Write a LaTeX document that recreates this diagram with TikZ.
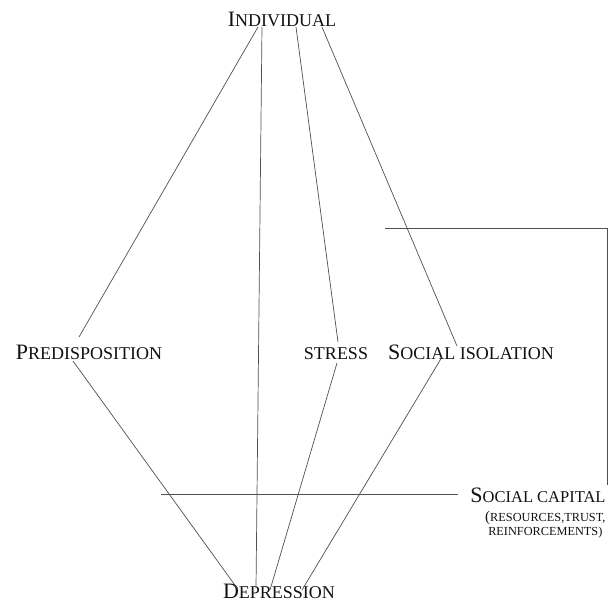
\documentclass[tikz,border=0pt]{standalone}
\usepackage{tikz}
\usetikzlibrary{calc,positioning}
\usepackage{xcolor}
\usepackage{fontspec}
\setmainfont{Liberation Serif}
\definecolor{dgInk}{HTML}{111111}
\definecolor{dgLine}{HTML}{505050}
\newcommand{\initcap}[1]{{\fontsize{22}{24}\selectfont #1}}
\tikzset{
  lbl/.style={inner sep=0pt, anchor=base, text=dgInk, font=\fontsize{18}{20}\selectfont},
  note/.style={inner sep=0pt, text=dgInk, align=left, font=\fontsize{12.3}{13.5}\selectfont},
  link/.style={draw=dgLine, line width=0.7pt},
}
\begin{document}
\begin{tikzpicture}[x=1pt,y=-1pt]
            \useasboundingbox (0,0) rectangle (611,611);
            % factors
            \node[lbl] (ind) at (282,26) {\initcap{I}NDIVIDUAL};
            \node[lbl] (pre) at (89,359) {\initcap{P}REDISPOSITION};
            \node[lbl] (str) at (336,359) {STRESS};
            \node[lbl] (iso) at (471,359) {\initcap{S}OCIAL ISOLATION};
            \node[lbl] (dep) at (279,598) {\initcap{D}EPRESSION};
            \node[lbl, font=\fontsize{16.5}{18}\selectfont] (cap) at (538,502) {\initcap{S}OCIAL CAPITAL};
            \node[note, anchor=north west] (capn) at ($(cap.base)+(-53,9)$) {{\fontsize{15}{13}\selectfont(}RESOURCES,TRUST,\\ \ REINFORCEMENTS)};
            \coordinate (capL) at (161,494);
            \coordinate (brL) at (385,228);
            \coordinate (brR) at (607,228);
            % links from individual
            \draw[link] ($(ind.base)+(-24,1)$) -- ($(pre.base)+(-10,-22)$);
            \draw[link] ($(ind.base)+(-20,1)$) -- ($(dep.base)+(-23,-10)$);
            \draw[link] ($(ind.base)+(14,1)$) -- ($(str.base)+(2,-17)$);
            \draw[link] ($(ind.base)+(40,1)$) -- ($(iso.base)+(-14,-13)$);
            % links to depression
            \draw[link] ($(pre.base)+(-16,2)$) -- ($(dep.base)+(-42,-10)$);
            \draw[link] ($(str.base)+(1,4)$) -- ($(dep.base)+(-9,-8)$);
            \draw[link] ($(iso.base)+(-29,-2)$) -- ($(dep.base)+(23,-8)$);
            % social capital
            \draw[link] (capL) -- ($(cap.base)+(-80,-8)$);
            \draw[link] (brL) -- (brR) -- ($(cap.base)+(69,-17)$);
        \end{tikzpicture}
\end{document}
